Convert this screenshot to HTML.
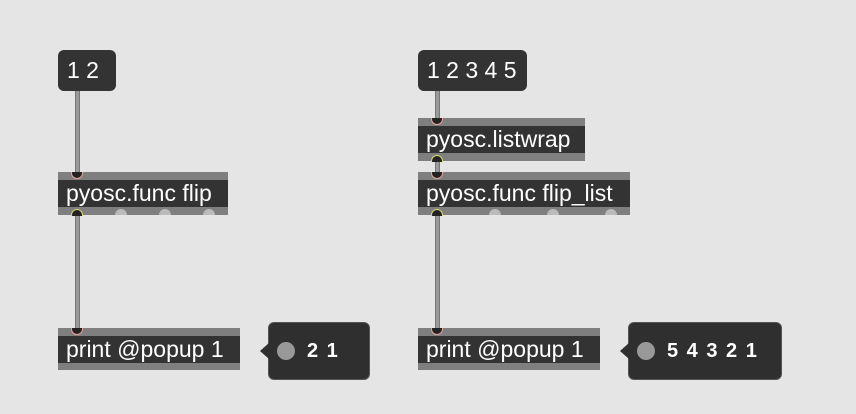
<!DOCTYPE html><html><head><style>
body{margin:0;width:856px;height:414px;background:#e5e5e5;position:relative;overflow:hidden;font-family:"Liberation Sans",sans-serif}
.a{position:absolute}
.msg{background:#333;border-radius:6px;color:#fff;font-size:23px;line-height:41px;padding-left:9px;box-sizing:border-box;white-space:nowrap}
.obj{background:#7f7f7f;box-sizing:border-box}
.obj span{position:absolute;left:0;right:0;top:8px;height:27px;background:#333;color:#fff;font-size:23px;line-height:27px;padding-left:8px;white-space:nowrap;overflow:hidden}
.cord{background:#9a9a9a;border-left:1px solid #777;border-right:1px solid #777;width:3px}
.in{width:10px;height:6px;border-radius:0 0 6px 6px;background:#222;border:1.5px solid #e8a398;border-top:none}
.out{width:12px;height:6px;border-radius:6px 6px 0 0;background:#bbb}
.outy{width:10px;height:6px;border-radius:6px 6px 0 0;background:#222;border:1.5px solid #d8d870;border-bottom:none}
.pop{background:#2f2f2f;border-radius:6px;border:1px solid #555;color:#fff;font-weight:bold;font-size:20px;line-height:56px;box-sizing:border-box;letter-spacing:1.5px;white-space:nowrap}
.pop:before{content:"";position:absolute;left:-9px;top:20px;border:8px solid transparent;border-right:9px solid #2f2f2f;border-left:none}
.dot{display:inline-block;width:18px;height:18px;border-radius:9px;background:#999;vertical-align:-3px;margin:0 12px 0 8px}
</style></head><body>
<div class="a cord" style="left:75px;top:91px;height:82px"></div>
<div class="a cord" style="left:75px;top:214px;height:116px"></div>
<div class="a cord" style="left:435px;top:91px;height:28px"></div>
<div class="a cord" style="left:435px;top:159px;height:14px"></div>
<div class="a cord" style="left:435px;top:214px;height:116px"></div>

<div class="a msg" style="left:58px;top:50px;width:58px;height:41px">1 2</div>
<div class="a msg" style="left:418px;top:50px;width:109px;height:41px">1 2 3 4 5</div>

<div class="a obj" style="left:58px;top:172px;width:170px;height:43px"><span>pyosc.func flip</span></div>
<div class="a obj" style="left:418px;top:118px;width:167px;height:43px"><span>pyosc.listwrap</span></div>
<div class="a obj" style="left:418px;top:172px;width:212px;height:43px"><span>pyosc.func flip_list</span></div>
<div class="a obj" style="left:58px;top:328px;width:182px;height:42px"><span>print @popup 1</span></div>
<div class="a obj" style="left:418px;top:328px;width:182px;height:42px"><span>print @popup 1</span></div>

<div class="a in" style="left:71px;top:172px"></div>
<div class="a in" style="left:431px;top:118px"></div>
<div class="a in" style="left:431px;top:172px"></div>
<div class="a in" style="left:71px;top:328px"></div>
<div class="a in" style="left:431px;top:328px"></div>
<div class="a outy" style="left:71px;top:209px"></div>
<div class="a outy" style="left:431px;top:155px"></div>
<div class="a outy" style="left:431px;top:209px"></div>
<div class="a out" style="left:115px;top:209px"></div>
<div class="a out" style="left:159px;top:209px"></div>
<div class="a out" style="left:203px;top:209px"></div>
<div class="a out" style="left:489px;top:209px"></div>
<div class="a out" style="left:547px;top:209px"></div>
<div class="a out" style="left:605px;top:209px"></div>

<div class="a pop" style="left:268px;top:322px;width:102px;height:58px"><i class="dot"></i>2 1</div>
<div class="a pop" style="left:628px;top:322px;width:154px;height:58px"><i class="dot"></i>5 4 3 2 1</div>
</body></html>
